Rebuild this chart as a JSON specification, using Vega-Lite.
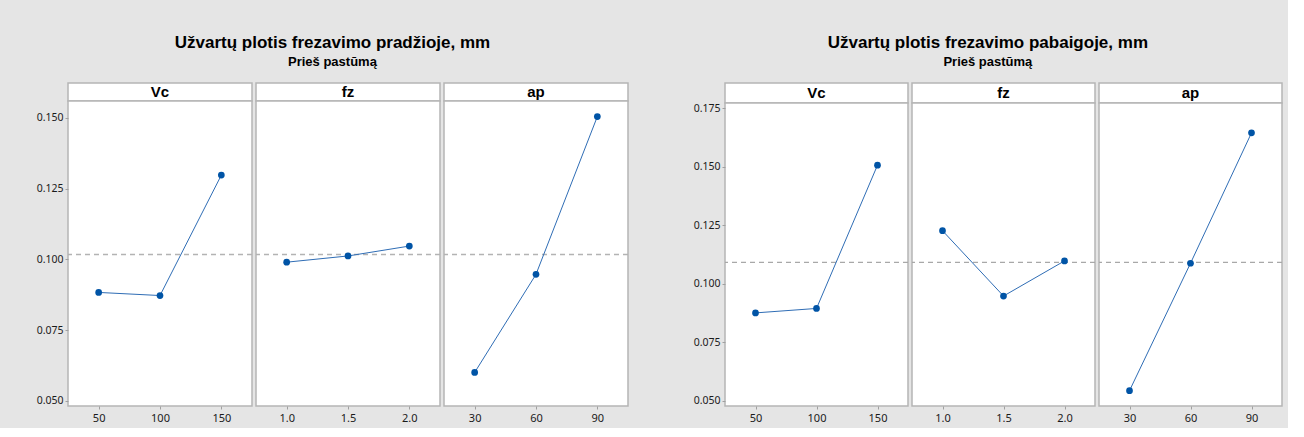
{
  "$schema": "https://vega.github.io/schema/vega-lite/v6.json",
  "background": "#e5e5e5",
  "padding": {"left": 35, "top": 34, "right": 4, "bottom": 4},
  "datasets": {
    "pradzia": [
      {"factor": "Vc", "level": "50", "rank": 1, "value": 0.0883},
      {"factor": "Vc", "level": "100", "rank": 2, "value": 0.0872},
      {"factor": "Vc", "level": "150", "rank": 3, "value": 0.1298},
      {"factor": "fz", "level": "1.0", "rank": 1, "value": 0.0990},
      {"factor": "fz", "level": "1.5", "rank": 2, "value": 0.1012},
      {"factor": "fz", "level": "2.0", "rank": 3, "value": 0.1047},
      {"factor": "ap", "level": "30", "rank": 1, "value": 0.0600},
      {"factor": "ap", "level": "60", "rank": 2, "value": 0.0947},
      {"factor": "ap", "level": "90", "rank": 3, "value": 0.1505}
    ],
    "pabaiga": [
      {"factor": "Vc", "level": "50", "rank": 1, "value": 0.0875},
      {"factor": "Vc", "level": "100", "rank": 2, "value": 0.0894},
      {"factor": "Vc", "level": "150", "rank": 3, "value": 0.1506},
      {"factor": "fz", "level": "1.0", "rank": 1, "value": 0.1226},
      {"factor": "fz", "level": "1.5", "rank": 2, "value": 0.0947},
      {"factor": "fz", "level": "2.0", "rank": 3, "value": 0.1097},
      {"factor": "ap", "level": "30", "rank": 1, "value": 0.0543},
      {"factor": "ap", "level": "60", "rank": 2, "value": 0.1087},
      {"factor": "ap", "level": "90", "rank": 3, "value": 0.1644}
    ]
  },
  "hconcat": [
    {
      "title": {"text": "Užvartų plotis frezavimo pradžioje, mm", "subtitle": "Prieš pastūmą"},
      "spacing": 0,
      "hconcat": [
        {
          "spacing": 0, "bounds": "flush",
          "vconcat": [
            {"width": 184, "height": 18, "data": {"values": [{"name": "Vc"}]}, "mark": {"type": "text", "font": "Liberation Sans", "fontWeight": "bold", "fontSize": 15, "color": "black"}, "encoding": {"x": {"field": "name", "type": "nominal", "axis": null}, "y": {"field": "name", "type": "nominal", "axis": null}, "text": {"field": "name"}}},
            {
              "width": 184, "height": 305,
              "data": {"name": "pradzia"},
              "layer": [
                {"transform": [{"aggregate": [{"op": "mean", "field": "value", "as": "mean"}]}],
                 "mark": {"type": "rule", "color": "#b3b3b3", "strokeWidth": 1.5, "strokeDash": [5, 4]},
                 "encoding": {"y": {"field": "mean", "type": "quantitative", "scale": {"domain": [0.04813, 0.15601], "nice": false, "zero": false}, "axis": {"values": [0.05, 0.075, 0.1, 0.125, 0.15], "format": ".3f", "title": null}}}},
                {"transform": [{"filter": "datum.factor == 'Vc'"}],
                 "mark": {"type": "line", "color": "#2f6db5", "strokeWidth": 1},
                 "encoding": {"x": {"field": "level", "type": "ordinal", "sort": {"field": "rank", "op": "min"}, "scale": {"type": "point", "padding": 0.5}, "title": null},
                              "y": {"field": "value", "type": "quantitative"}, "order": {"field": "rank"}}},
                {"transform": [{"filter": "datum.factor == 'Vc'"}],
                 "mark": {"type": "point", "filled": true, "opacity": 1, "color": "#0054a6", "size": 45},
                 "encoding": {"x": {"field": "level", "type": "ordinal", "sort": {"field": "rank", "op": "min"}, "title": null},
                              "y": {"field": "value", "type": "quantitative"}}}
              ]
            }
          ]
        },
        {
          "spacing": 0, "bounds": "flush",
          "vconcat": [
            {"width": 184, "height": 18, "data": {"values": [{"name": "fz"}]}, "mark": {"type": "text", "font": "Liberation Sans", "fontWeight": "bold", "fontSize": 15, "color": "black"}, "encoding": {"x": {"field": "name", "type": "nominal", "axis": null}, "y": {"field": "name", "type": "nominal", "axis": null}, "text": {"field": "name"}}},
            {
              "width": 184, "height": 305,
              "data": {"name": "pradzia"},
              "layer": [
                {"transform": [{"aggregate": [{"op": "mean", "field": "value", "as": "mean"}]}],
                 "mark": {"type": "rule", "color": "#b3b3b3", "strokeWidth": 1.5, "strokeDash": [5, 4]},
                 "encoding": {"y": {"field": "mean", "type": "quantitative", "scale": {"domain": [0.04813, 0.15601], "nice": false, "zero": false}, "axis": null}}},
                {"transform": [{"filter": "datum.factor == 'fz'"}],
                 "mark": {"type": "line", "color": "#2f6db5", "strokeWidth": 1},
                 "encoding": {"x": {"field": "level", "type": "ordinal", "sort": {"field": "rank", "op": "min"}, "scale": {"type": "point", "padding": 0.5}, "title": null},
                              "y": {"field": "value", "type": "quantitative", "axis": null}, "order": {"field": "rank"}}},
                {"transform": [{"filter": "datum.factor == 'fz'"}],
                 "mark": {"type": "point", "filled": true, "opacity": 1, "color": "#0054a6", "size": 45},
                 "encoding": {"x": {"field": "level", "type": "ordinal", "sort": {"field": "rank", "op": "min"}, "title": null},
                              "y": {"field": "value", "type": "quantitative", "axis": null}}}
              ]
            }
          ]
        },
        {
          "spacing": 0, "bounds": "flush",
          "vconcat": [
            {"width": 184, "height": 18, "data": {"values": [{"name": "ap"}]}, "mark": {"type": "text", "font": "Liberation Sans", "fontWeight": "bold", "fontSize": 15, "color": "black"}, "encoding": {"x": {"field": "name", "type": "nominal", "axis": null}, "y": {"field": "name", "type": "nominal", "axis": null}, "text": {"field": "name"}}},
            {
              "width": 184, "height": 305,
              "data": {"name": "pradzia"},
              "layer": [
                {"transform": [{"aggregate": [{"op": "mean", "field": "value", "as": "mean"}]}],
                 "mark": {"type": "rule", "color": "#b3b3b3", "strokeWidth": 1.5, "strokeDash": [5, 4]},
                 "encoding": {"y": {"field": "mean", "type": "quantitative", "scale": {"domain": [0.04813, 0.15601], "nice": false, "zero": false}, "axis": null}}},
                {"transform": [{"filter": "datum.factor == 'ap'"}],
                 "mark": {"type": "line", "color": "#2f6db5", "strokeWidth": 1},
                 "encoding": {"x": {"field": "level", "type": "ordinal", "sort": {"field": "rank", "op": "min"}, "scale": {"type": "point", "padding": 0.5}, "title": null},
                              "y": {"field": "value", "type": "quantitative", "axis": null}, "order": {"field": "rank"}}},
                {"transform": [{"filter": "datum.factor == 'ap'"}],
                 "mark": {"type": "point", "filled": true, "opacity": 1, "color": "#0054a6", "size": 45},
                 "encoding": {"x": {"field": "level", "type": "ordinal", "sort": {"field": "rank", "op": "min"}, "title": null},
                              "y": {"field": "value", "type": "quantitative", "axis": null}}}
              ]
            }
          ]
        }
      ]
    },
    {
      "title": {"text": "Užvartų plotis frezavimo pabaigoje, mm", "subtitle": "Prieš pastūmą"},
      "spacing": 0,
      "hconcat": [
        {
          "spacing": 0, "bounds": "flush",
          "vconcat": [
            {"width": 183, "height": 20, "data": {"values": [{"name": "Vc"}]}, "mark": {"type": "text", "font": "Liberation Sans", "fontWeight": "bold", "fontSize": 15, "color": "black"}, "encoding": {"x": {"field": "name", "type": "nominal", "axis": null}, "y": {"field": "name", "type": "nominal", "axis": null}, "text": {"field": "name"}}},
            {
              "width": 183, "height": 303,
              "data": {"name": "pabaiga"},
              "layer": [
                {"transform": [{"aggregate": [{"op": "mean", "field": "value", "as": "mean"}]}],
                 "mark": {"type": "rule", "color": "#a8a8a8", "strokeWidth": 1.2, "strokeDash": [5, 4]},
                 "encoding": {"y": {"field": "mean", "type": "quantitative", "scale": {"domain": [0.04774, 0.17714], "nice": false, "zero": false}, "axis": {"values": [0.05, 0.075, 0.1, 0.125, 0.15, 0.175], "format": ".3f", "title": null}}}},
                {"transform": [{"filter": "datum.factor == 'Vc'"}],
                 "mark": {"type": "line", "color": "#2f6db5", "strokeWidth": 1},
                 "encoding": {"x": {"field": "level", "type": "ordinal", "sort": {"field": "rank", "op": "min"}, "scale": {"type": "point", "padding": 0.5}, "title": null},
                              "y": {"field": "value", "type": "quantitative"}, "order": {"field": "rank"}}},
                {"transform": [{"filter": "datum.factor == 'Vc'"}],
                 "mark": {"type": "point", "filled": true, "opacity": 1, "color": "#0054a6", "size": 45},
                 "encoding": {"x": {"field": "level", "type": "ordinal", "sort": {"field": "rank", "op": "min"}, "title": null},
                              "y": {"field": "value", "type": "quantitative"}}}
              ]
            }
          ]
        },
        {
          "spacing": 0, "bounds": "flush",
          "vconcat": [
            {"width": 183, "height": 20, "data": {"values": [{"name": "fz"}]}, "mark": {"type": "text", "font": "Liberation Sans", "fontWeight": "bold", "fontSize": 15, "color": "black"}, "encoding": {"x": {"field": "name", "type": "nominal", "axis": null}, "y": {"field": "name", "type": "nominal", "axis": null}, "text": {"field": "name"}}},
            {
              "width": 183, "height": 303,
              "data": {"name": "pabaiga"},
              "layer": [
                {"transform": [{"aggregate": [{"op": "mean", "field": "value", "as": "mean"}]}],
                 "mark": {"type": "rule", "color": "#a8a8a8", "strokeWidth": 1.2, "strokeDash": [5, 4]},
                 "encoding": {"y": {"field": "mean", "type": "quantitative", "scale": {"domain": [0.04774, 0.17714], "nice": false, "zero": false}, "axis": null}}},
                {"transform": [{"filter": "datum.factor == 'fz'"}],
                 "mark": {"type": "line", "color": "#2f6db5", "strokeWidth": 1},
                 "encoding": {"x": {"field": "level", "type": "ordinal", "sort": {"field": "rank", "op": "min"}, "scale": {"type": "point", "padding": 0.5}, "title": null},
                              "y": {"field": "value", "type": "quantitative", "axis": null}, "order": {"field": "rank"}}},
                {"transform": [{"filter": "datum.factor == 'fz'"}],
                 "mark": {"type": "point", "filled": true, "opacity": 1, "color": "#0054a6", "size": 45},
                 "encoding": {"x": {"field": "level", "type": "ordinal", "sort": {"field": "rank", "op": "min"}, "title": null},
                              "y": {"field": "value", "type": "quantitative", "axis": null}}}
              ]
            }
          ]
        },
        {
          "spacing": 0, "bounds": "flush",
          "vconcat": [
            {"width": 183, "height": 20, "data": {"values": [{"name": "ap"}]}, "mark": {"type": "text", "font": "Liberation Sans", "fontWeight": "bold", "fontSize": 15, "color": "black"}, "encoding": {"x": {"field": "name", "type": "nominal", "axis": null}, "y": {"field": "name", "type": "nominal", "axis": null}, "text": {"field": "name"}}},
            {
              "width": 183, "height": 303,
              "data": {"name": "pabaiga"},
              "layer": [
                {"transform": [{"aggregate": [{"op": "mean", "field": "value", "as": "mean"}]}],
                 "mark": {"type": "rule", "color": "#a8a8a8", "strokeWidth": 1.2, "strokeDash": [5, 4]},
                 "encoding": {"y": {"field": "mean", "type": "quantitative", "scale": {"domain": [0.04774, 0.17714], "nice": false, "zero": false}, "axis": null}}},
                {"transform": [{"filter": "datum.factor == 'ap'"}],
                 "mark": {"type": "line", "color": "#2f6db5", "strokeWidth": 1},
                 "encoding": {"x": {"field": "level", "type": "ordinal", "sort": {"field": "rank", "op": "min"}, "scale": {"type": "point", "padding": 0.5}, "title": null},
                              "y": {"field": "value", "type": "quantitative", "axis": null}, "order": {"field": "rank"}}},
                {"transform": [{"filter": "datum.factor == 'ap'"}],
                 "mark": {"type": "point", "filled": true, "opacity": 1, "color": "#0054a6", "size": 45},
                 "encoding": {"x": {"field": "level", "type": "ordinal", "sort": {"field": "rank", "op": "min"}, "title": null},
                              "y": {"field": "value", "type": "quantitative", "axis": null}}}
              ]
            }
          ]
        }
      ]
    }
  ],
  "spacing": 62,
  "config": {
    "view": {"stroke": "#b5b5b5", "strokeWidth": 1.5, "fill": "white"},
    "title": {"anchor": "middle", "frame": "bounds", "font": "Liberation Sans", "fontSize": 17, "fontWeight": "bold", "color": "black", "subtitleFont": "Liberation Sans", "subtitleFontSize": 13, "subtitleFontWeight": "bold", "subtitleColor": "black", "subtitlePadding": 4, "offset": 12},
    "axis": {"grid": false, "domain": false, "ticks": true, "tickSize": 3, "tickColor": "#a0a0a0", "labelFont": "Noto Sans", "labelColor": "#1a1a1a"},
    "axisY": {"labelFontSize": 10.5, "labelPadding": 2},
    "axisX": {"labelFontSize": 11, "labelAngle": 0, "labelPadding": 3}
  }
}
